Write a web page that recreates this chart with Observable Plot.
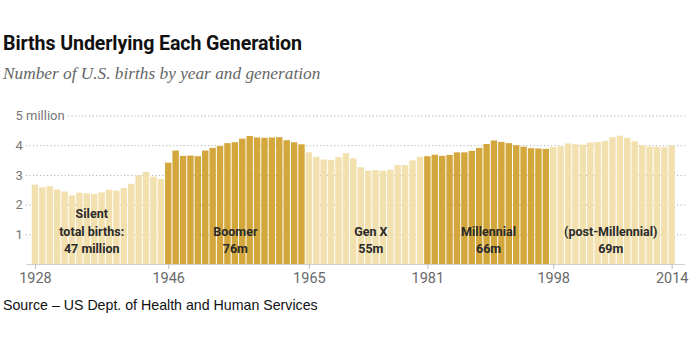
<!DOCTYPE html>
<html>
<head>
<meta charset="utf-8">
<script src="https://cdn.jsdelivr.net/npm/d3@7"></script>
<script src="https://cdn.jsdelivr.net/npm/@observablehq/plot@0.6"></script>
<style>
  html, body { margin: 0; padding: 0; background: #fff; }
  #wrap { position: relative; width: 690px; height: 350px; overflow: hidden; }
  #title { position: absolute; left: 3px; top: 32px; font-family: Roboto, "Liberation Sans", sans-serif; font-weight: 700; font-size: 19.6px; color: #111; white-space: nowrap; letter-spacing: -0.1px; }
  #subtitle { position: absolute; left: 3px; top: 64px; font-family: "Liberation Serif", serif; font-style: italic; font-size: 17.3px; color: #666; white-space: nowrap; }
  #chart { position: absolute; left: 0; top: 95px; }
  #source { position: absolute; left: 3px; top: 297px; font-family: "Liberation Sans", Arial, sans-serif; font-size: 14.2px; color: #111; white-space: nowrap; }
</style>
</head>
<body>
<div id="wrap">
  <div id="title">Births Underlying Each Generation</div>
  <div id="subtitle">Number of U.S. births by year and generation</div>
  <div id="chart"></div>
  <div id="source">Source – US Dept. of Health and Human Services</div>
</div>
<script>
// Data (millions of U.S. births per year)
const years = d3.range(1928, 2015);
const births = [
  2.67, 2.58, 2.62, 2.51, 2.44, 2.31, 2.40, 2.38, 2.36, 2.41, 2.50, 2.47, 2.56, 2.70, 2.99, 3.10, 2.94, 2.86, // 1928-1945
  3.41, 3.82, 3.64, 3.65, 3.63, 3.82, 3.91, 3.97, 4.07, 4.10, 4.22, 4.31, 4.26, 4.25, 4.26, 4.27, 4.17, 4.10, 4.03, // 1946-1964
  3.76, 3.61, 3.52, 3.50, 3.60, 3.73, 3.56, 3.26, 3.14, 3.16, 3.14, 3.17, 3.33, 3.33, 3.49, 3.61, // 1965-1980
  3.63, 3.68, 3.64, 3.67, 3.76, 3.76, 3.81, 3.91, 4.04, 4.16, 4.11, 4.07, 4.00, 3.95, 3.90, 3.89, 3.88, // 1981-1997
  3.94, 3.96, 4.06, 4.03, 4.02, 4.09, 4.11, 4.14, 4.27, 4.32, 4.25, 4.13, 4.00, 3.95, 3.95, 3.93, 3.99  // 1998-2014
];
const genNames = ["Silent", "Boomer", "Gen X", "Millennial", "(post-Millennial)"];
const genStart = [1928, 1946, 1965, 1981, 1998];
const genEnd = [1945, 1964, 1980, 1997, 2014];
const genTotals = ["total births:\n47 million", "76m", "55m", "66m", "69m"];
const xTicks = [1928, 1946, 1965, 1981, 1998, 2014];
const yTicks = [1, 2, 3, 4, 5];
const yTickLabels = ["1", "2", "3", "4", "5 million"];

const genOf = (y) => genStart.findIndex((s, i) => y >= s && y <= genEnd[i]);
const table = years.map((y, i) => ({ year: y, births: births[i], gen: genOf(y) }));
// label placement nudges (years) to match the original layout
const labelShift = [-0.9, 0, 0.8, 0.2, -0.3];
const labels = genNames.map((n, i) => ({
  x: (genStart[i] + genEnd[i]) / 2 + labelShift[i],
  text: n + "\n" + genTotals[i]
}));
const yLabels = yTicks.map((v, i) => ({ v, t: yTickLabels[i] }));

const light = "#f2e1ae";
const dark = "#d4a73c";

const chart = Plot.plot({
  width: 690,
  height: 195,
  marginLeft: 26,
  marginRight: 5,
  marginTop: 20.5,
  marginBottom: 26,
  x: { type: "linear", domain: [1926.79, 2015.8], axis: null, label: null },
  y: { domain: [0, 5], axis: null, label: null },
  style: { background: "transparent", overflow: "visible" },
  marks: [
    Plot.ruleY(yTicks, { stroke: "#b0b0b0", strokeDasharray: "1.2,2.3", strokeWidth: 1 }),
    Plot.rectY(table, {
      x1: (d) => d.year - 0.5,
      x2: (d) => d.year + 0.5,
      y: "births",
      fill: (d) => (d.gen % 2 === 1 ? dark : light),
      insetLeft: 0.5,
      insetRight: 0.5
    }),
    Plot.ruleY([0], { stroke: "#d0d0d0" }),
    Plot.text(yLabels, {
      y: "v",
      text: "t",
      frameAnchor: "left",
      dx: -11,
      textAnchor: "start",
      fill: "#777",
      stroke: "white",
      strokeWidth: 6,
      fontSize: 13,
      fontFamily: "Roboto, 'Liberation Sans', sans-serif"
    }),
    Plot.text(labels, {
      x: "x",
      y: 0.38,
      text: "text",
      lineAnchor: "bottom",
      lineHeight: 1.4,
      fill: "#2a2a2a",
      fontWeight: "bold",
      fontSize: 12.5,
      fontFamily: "Roboto, 'Liberation Sans', sans-serif"
    }),
    Plot.axisX(xTicks, {
      label: null,
      tickSize: 5,
      tickPadding: 3,
      stroke: "#bbb",
      tickFormat: (d) => String(d),
      fontSize: 14.5,
      fill: "#6a6a6a",
      color: "#6a6a6a",
      fontFamily: "Roboto, 'Liberation Sans', sans-serif"
    })
  ]
});
document.getElementById("chart").appendChild(chart);
</script>
</body>
</html>
